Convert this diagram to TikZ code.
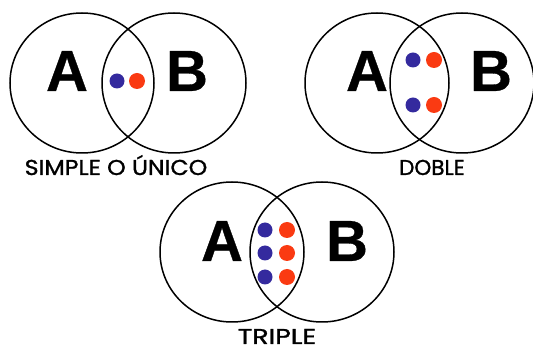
\documentclass[tikz,border=0pt]{standalone}
\usepackage{fontspec}
\usepackage{graphicx}
\setmainfont{Liberation Sans}[BoldFeatures={FakeBold=0.6}]
\newfontfamily\labelfont[FakeBold=1.2]{Poppins}
\usetikzlibrary{shapes.geometric}
\definecolor{dotblue}{RGB}{52,42,158}
\definecolor{dotred}{RGB}{250,58,18}
\tikzset{
  setring/.style={draw=black, line width=1.5pt, ellipse, minimum width=144pt, minimum height=140pt, inner sep=0pt},
  setletter/.style={font=\fontsize{58}{58}\selectfont\bfseries, inner sep=0pt},
  bdot/.style={circle, fill=dotblue, minimum size=15pt, inner sep=0pt},
  rdot/.style={circle, fill=dotred, minimum size=16pt, inner sep=0pt},
  caption/.style={font=\labelfont\fontsize{21.5}{21.5}\selectfont, inner sep=0pt, anchor=base, text depth=0pt}
}
\begin{document}
\begin{tikzpicture}[x=1pt,y=-1pt]
\useasboundingbox (0,0) rectangle (533,352);
% simple
\node[setring] (s1A) at (82,83) {};
\node[setring] (s1B) at (174,83) {};
\node[setletter] (s1a) at (67,71) {A};
\node[setletter] (s1b) at (187,71) {B};
\node[bdot] (s1d1) at (117,81) {};
\node[rdot] (s1d2) at (137,81) {};
\node[caption] (s1t) at (116,175) {\scalebox{1.1}[1]{SIMPLE O ÚNICO}};
% doble
\node[setring] (s2A) at (377,83) {};
\node[setring] (s2B) at (462,83) {};
\node[setletter] (s2a) at (367,71) {A};
\node[setletter] (s2b) at (491,71) {B};
\node[bdot] (s2d1) at (413,60) {};
\node[rdot] (s2d2) at (434,60) {};
\node[bdot] (s2d3) at (413,105) {};
\node[rdot] (s2d4) at (434,105) {};
\node[caption] (s2t) at (432,175) {DOBLE};
% triple
\node[setring] (s3A) at (232,252) {};
\node[setring] (s3B) at (322,252) {};
\node[setletter] (s3a) at (222,241) {A};
\node[setletter] (s3b) at (347,241) {B};
\node[bdot] (s3d1) at (265,230) {};
\node[rdot] (s3d2) at (287,230) {};
\node[bdot] (s3d3) at (265,253) {};
\node[rdot] (s3d4) at (287,253) {};
\node[bdot] (s3d5) at (265,277) {};
\node[rdot] (s3d6) at (287,277) {};
\node[caption] (s3t) at (277,344) {\scalebox{1.25}[1]{TRIPLE}};
\end{tikzpicture}
\end{document}
